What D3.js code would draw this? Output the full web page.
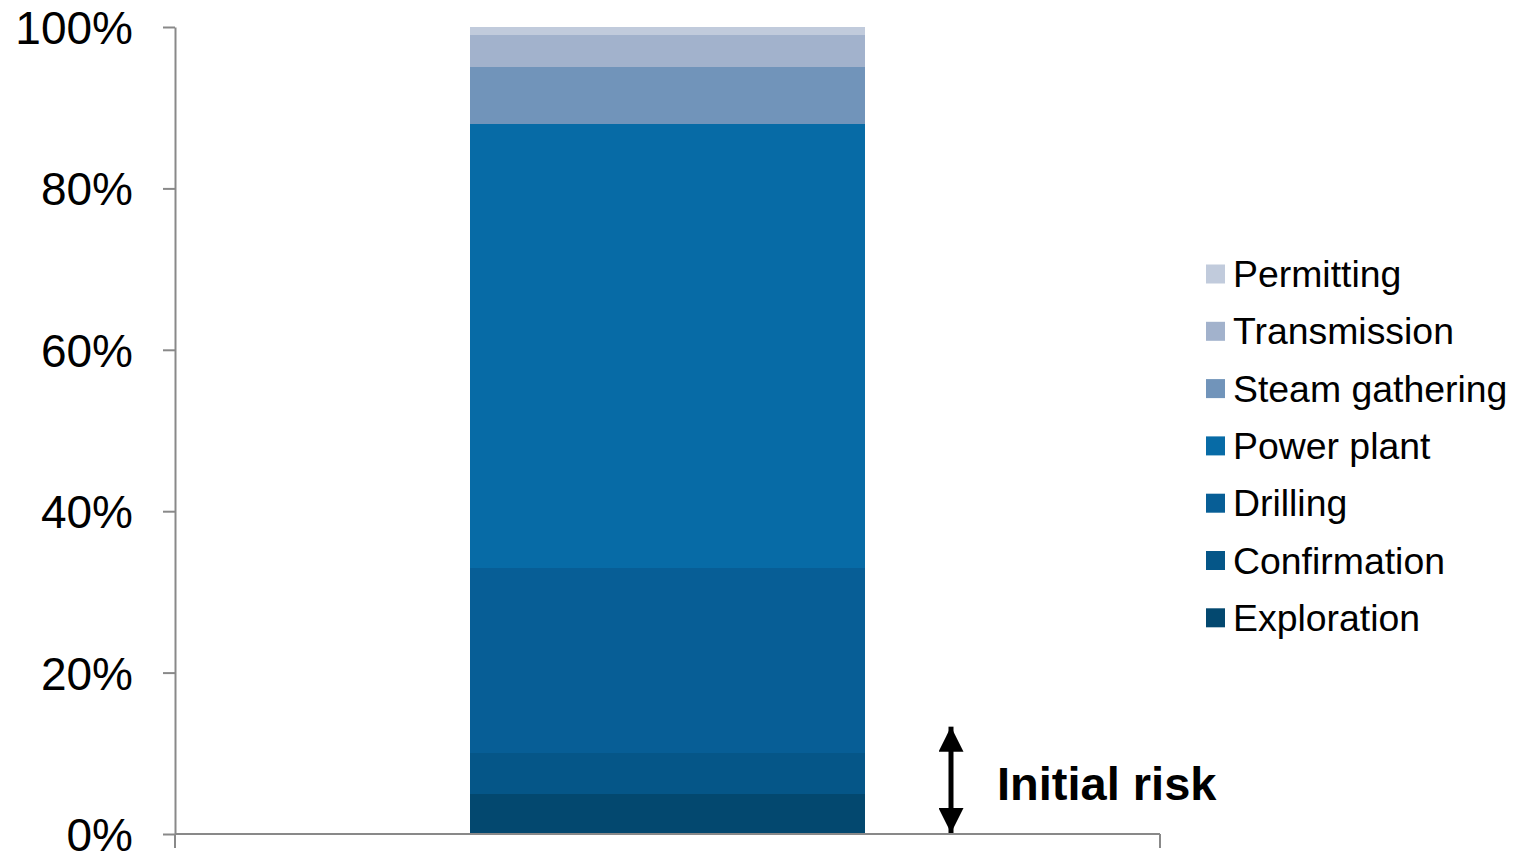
<!DOCTYPE html>
<html>
<head>
<meta charset="utf-8">
<script src="https://cdn.jsdelivr.net/npm/d3@7"></script>
<style>
  body { margin: 0; background: #fff; }
  text { font-family: "Liberation Sans", Arial, sans-serif; }
</style>
</head>
<body>
<div class="chart"></div>
<script>
// data (bottom to top)
const categories = ["Project"];
const segments = ["Exploration", "Confirmation", "Drilling", "Power plant", "Steam gathering", "Transmission", "Permitting"];
const shares = [5, 5, 23, 55, 7, 4, 1];
const colors = ["#03486f", "#055688", "#075e96", "#076ba6", "#7194ba", "#a2b2cc", "#c1cbdc"];
const yTicks = [0, 20, 40, 60, 80, 100];
const riskRange = [0, 13.3];   // span of the "Initial risk" arrow

const width = 1521, height = 852;
const margin = { top: 27, right: 361, bottom: 18, left: 175 };
const w = width - margin.left - margin.right;
const h = height - margin.top - margin.bottom;

const svg = d3.select('div.chart')
    .append('svg')
    .attr('width', width)
    .attr('height', height);

const chart = svg.append('g')
    .attr('transform', 'translate(' + margin.left + ',' + margin.top + ')');

const x = d3.scaleBand()
    .domain(categories)
    .range([0, w])
    .padding(0.4276);

const y = d3.scaleLinear()
    .domain([0, 100])
    .range([h, 0]);

// stack the segments
let stacked = [];
let acc = 0;
for (let i = 0; i < segments.length; i++) {
    stacked.push({ name: segments[i], y0: acc, y1: acc + shares[i], color: colors[i] });
    acc += shares[i];
}

chart.append('g')
    .selectAll('rect')
    .data(stacked)
    .enter()
    .append('rect')
    .attr('x', x(categories[0]))
    .attr('width', x.bandwidth())
    .attr('y', d => Math.round(y(d.y1)))
    .attr('height', d => Math.round(y(d.y0)) - Math.round(y(d.y1)))
    .attr('shape-rendering', 'crispEdges')
    .style('fill', d => d.color);

// y axis
const yAxis = d3.axisLeft(y)
    .tickValues(yTicks)
    .tickFormat(d => d + '%')
    .tickSize(12)
    .tickPadding(30)
    .tickSizeOuter(0);

const gy = chart.append('g').call(yAxis);
gy.select('.domain').attr('stroke', '#898989').attr('stroke-width', 2);
gy.selectAll('.tick line').attr('stroke', '#898989').attr('stroke-width', 2);
gy.selectAll('.tick text')
    .style('font-size', '46px')
    .attr('dy', '0.36em')
    .attr('fill', '#000');

// x axis (category boundary ticks only)
const gx = chart.append('g')
    .attr('transform', 'translate(0,' + h + ')');
gx.append('line')
    .attr('x1', 0).attr('x2', w)
    .attr('stroke', '#898989').attr('stroke-width', 2);
gx.selectAll('line.edge')
    .data(x.range())
    .enter()
    .append('line')
    .attr('class', 'edge')
    .attr('x1', d => d).attr('x2', d => d)
    .attr('y1', 0).attr('y2', 14)
    .attr('stroke', '#898989').attr('stroke-width', 2);

// initial risk arrow
const ax = 776;
const defs = svg.append('defs');
defs.append('marker')
    .attr('id', 'head')
    .attr('viewBox', '0 0 10 10')
    .attr('refX', 10).attr('refY', 5)
    .attr('markerWidth', 5).attr('markerHeight', 5)
    .attr('markerUnits', 'strokeWidth')
    .attr('orient', 'auto-start-reverse')
    .append('path')
    .attr('d', 'M0,0 L10,5 L0,10 Z')
    .attr('fill', '#000');

chart.append('line')
    .attr('x1', ax).attr('x2', ax)
    .attr('y1', y(riskRange[0]) - 1).attr('y2', y(riskRange[1]))
    .attr('stroke', '#000').attr('stroke-width', 5)
    .attr('marker-start', 'url(#head)')
    .attr('marker-end', 'url(#head)');

chart.append('text')
    .attr('x', 822)
    .attr('y', y(4.2))
    .style('font-size', '47px')
    .style('font-weight', 'bold')
    .attr('fill', '#000')
    .text('Initial risk');

// legend (top to bottom: reverse of stack)
const legend = svg.append('g')
    .attr('transform', 'translate(1206,274)');
const items = legend.selectAll('g')
    .data(stacked.slice().reverse())
    .enter()
    .append('g')
    .attr('transform', (d, i) => 'translate(0,' + (i * 57.3) + ')');
items.append('rect')
    .attr('x', 0).attr('y', -9.5)
    .attr('width', 19).attr('height', 19)
    .style('fill', d => d.color);
items.append('text')
    .attr('x', 27)
    .attr('y', 13)
    .style('font-size', '37.4px')
    .attr('fill', '#000')
    .text(d => d.name);
</script>
</body>
</html>
